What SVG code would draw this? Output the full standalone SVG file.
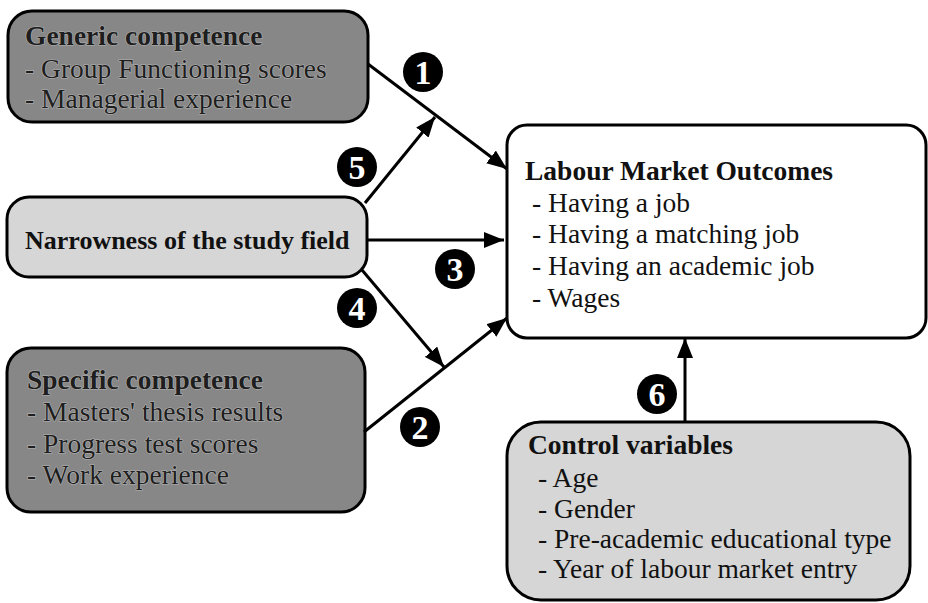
<svg xmlns="http://www.w3.org/2000/svg" width="928" height="603" viewBox="0 0 928 603" font-family="'Liberation Serif', 'Times New Roman', Times, serif">
<defs>
<marker id="ah" viewBox="0 0 20 16" refX="20" refY="8" markerWidth="20" markerHeight="16" markerUnits="userSpaceOnUse" orient="auto">
<path d="M0,0 L20,8 L0,16 Z" fill="#000"/>
</marker>
</defs>
<style>
.box{stroke:#000;stroke-width:3}
.dark{fill:#878787}
.light{fill:#d6d6d6}
.white{fill:#fff}
text{font-size:27.5px;fill:#111}
.b{font-weight:bold}
.dt{fill:#1e1e1e;stroke:#b4b4b4;stroke-width:1.2;paint-order:stroke}
.conn line{stroke:#000;stroke-width:3;marker-end:url(#ah)}
.badge circle{fill:#000}
.badge text{fill:#fff;font-weight:bold;font-size:34px;text-anchor:middle}
</style>
<rect width="928" height="603" fill="#fff"/>
<g id="generic">
<rect class="box dark" x="8" y="11" width="360" height="111" rx="24"/>
<text class="b dt" x="25" y="45">Generic competence</text>
<text class="dt" x="25" y="78">- Group Functioning scores</text>
<text class="dt" x="25" y="108">- Managerial experience</text>
</g>
<g id="narrowness">
<rect class="box light" x="7" y="197" width="360" height="80" rx="22"/>
<text class="b" x="25" y="249" style="font-size:26px">Narrowness of the study field</text>
</g>
<g id="specific">
<rect class="box dark" x="7" y="348" width="358" height="164" rx="24"/>
<text class="b dt" x="27" y="389">Specific competence</text>
<text class="dt" x="27" y="421">- Masters' thesis results</text>
<text class="dt" x="27" y="453">- Progress test scores</text>
<text class="dt" x="27" y="484">- Work experience</text>
</g>
<g id="outcomes">
<rect class="box white" x="507" y="125" width="419" height="213" rx="20"/>
<text class="b" x="525" y="180">Labour Market Outcomes</text>
<text x="532" y="212">- Having a job</text>
<text x="532" y="243">- Having a matching job</text>
<text x="532" y="275">- Having an academic job</text>
<text x="532" y="307">- Wages</text>
</g>
<g id="control">
<rect class="box light" x="507" y="422" width="403" height="178" rx="34"/>
<text class="b" x="528" y="454">Control variables</text>
<text x="538" y="487">- Age</text>
<text x="538" y="518">- Gender</text>
<text x="538" y="548">- Pre-academic educational type</text>
<text x="538" y="578">- Year of labour market entry</text>
</g>
<g id="connectors" class="conn">
<line x1="368" y1="64" x2="507" y2="169"/>
<line x1="365" y1="203" x2="435" y2="117"/>
<line x1="368" y1="240" x2="504" y2="240"/>
<line x1="362" y1="270" x2="444" y2="367"/>
<line x1="364" y1="432" x2="507" y2="318"/>
<line x1="685" y1="422" x2="685" y2="338"/>
</g>
<g id="badges" class="badge">
<g id="b1"><circle cx="423" cy="72" r="20"/><text x="423" y="84">1</text></g>
<g id="b5"><circle cx="357" cy="167" r="20"/><text x="357" y="179">5</text></g>
<g id="b3"><circle cx="455" cy="269" r="20"/><text x="455" y="281">3</text></g>
<g id="b4"><circle cx="357" cy="308" r="20"/><text x="357" y="320">4</text></g>
<g id="b2"><circle cx="420" cy="427" r="20"/><text x="420" y="439">2</text></g>
<g id="b6"><circle cx="657" cy="394" r="20"/><text x="657" y="406">6</text></g>
</g>
</svg>
